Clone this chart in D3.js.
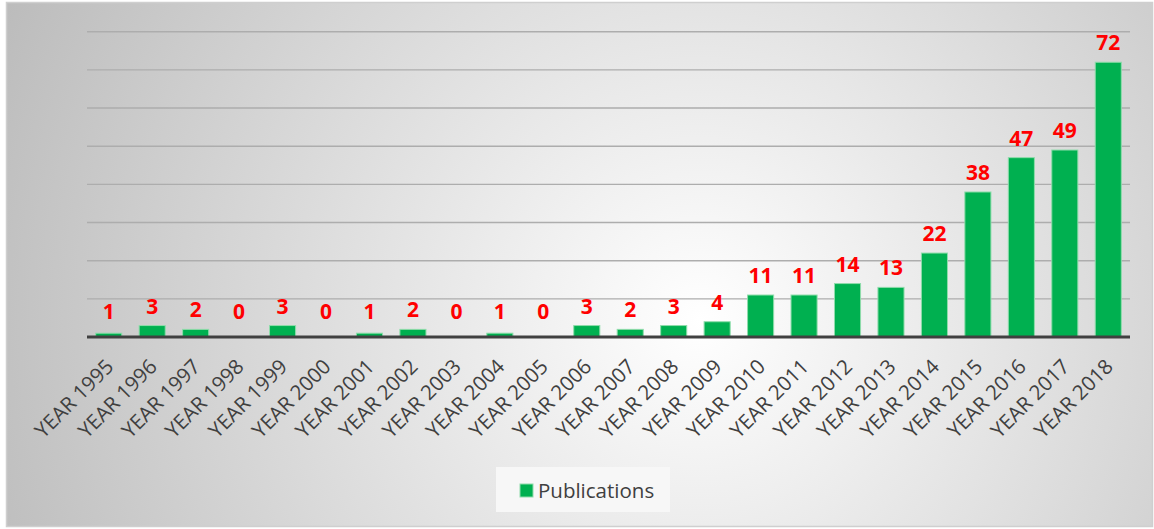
<!DOCTYPE html>
<html lang="en">
<head>
    <meta charset="UTF-8">
    <script src="https://d3js.org/d3.v7.min.js"></script>
    <style>
        body { margin: 0; background: #fff; }
        .lbl { font-family: "Open Sans", sans-serif; }
    </style>
</head>
<body>
<script>
    // chart data
    var years = ["YEAR 1995", "YEAR 1996", "YEAR 1997", "YEAR 1998", "YEAR 1999", "YEAR 2000",
        "YEAR 2001", "YEAR 2002", "YEAR 2003", "YEAR 2004", "YEAR 2005", "YEAR 2006",
        "YEAR 2007", "YEAR 2008", "YEAR 2009", "YEAR 2010", "YEAR 2011", "YEAR 2012",
        "YEAR 2013", "YEAR 2014", "YEAR 2015", "YEAR 2016", "YEAR 2017", "YEAR 2018"];
    var publications = [1, 3, 2, 0, 3, 0, 1, 2, 0, 1, 0, 3, 2, 3, 4, 11, 11, 14, 13, 22, 38, 47, 49, 72];
    var gridTicks = [10, 20, 30, 40, 50, 60, 70, 80];
    var seriesName = "Publications";

    var width = 1154, height = 529;
    var svg = d3.select("body").append("svg")
        .attr("width", width)
        .attr("height", height);

    // background gradient
    var defs = svg.append("defs");
    var grad = defs.append("radialGradient")
        .attr("id", "bg")
        .attr("gradientUnits", "userSpaceOnUse")
        .attr("cx", 700).attr("cy", 320).attr("r", 760);
    grad.append("stop").attr("offset", "0%").attr("stop-color", "#ffffff");
    grad.append("stop").attr("offset", "100%").attr("stop-color", "#bcbcbc");

    svg.append("rect")
        .attr("x", 6.5).attr("y", 2.5)
        .attr("width", 1146).attr("height", 524)
        .attr("fill", "url(#bg)")
        .attr("stroke", "#cfcfcf")
        .attr("stroke-width", 1.5);

    // scales
    var x = d3.scaleBand()
        .domain(years)
        .range([87, 1130])
        .paddingInner(0.4)
        .paddingOuter(0.2);

    var y = d3.scaleLinear()
        .domain([0, 80])
        .range([337, 31.7]);

    // gridlines
    svg.append("g").selectAll("line")
        .data(gridTicks)
        .enter().append("line")
        .attr("x1", 87).attr("x2", 1130)
        .attr("y1", d => y(d)).attr("y2", d => y(d))
        .attr("stroke", "#adadad")
        .attr("stroke-width", 1.4);

    // bars
    svg.append("g").selectAll("rect")
        .data(publications)
        .enter().append("rect")
        .attr("x", (d, i) => x(years[i]))
        .attr("y", d => y(d))
        .attr("width", x.bandwidth())
        .attr("height", d => y(0) - y(d))
        .attr("fill", "#00b050")
        .attr("stroke", "#8fdcab")
        .attr("stroke-width", d => d > 0 ? 1 : 0);

    // baseline
    svg.append("line")
        .attr("x1", 87).attr("x2", 1130)
        .attr("y1", y(0)).attr("y2", y(0))
        .attr("stroke", "#404040")
        .attr("stroke-width", 3);

    // value labels
    svg.append("g").selectAll("text")
        .data(publications)
        .enter().append("text")
        .attr("class", "lbl")
        .attr("x", (d, i) => x(years[i]) + x.bandwidth() / 2)
        .attr("y", d => Math.min(y(d) - 12, 319))
        .attr("text-anchor", "middle")
        .attr("fill", "#ff0000")
        .attr("font-weight", "bold")
        .attr("font-size", 21)
        .text(d => d);

    // x axis labels
    var xAxis = d3.axisBottom(x).tickSize(0).tickPadding(0);
    var gx = svg.append("g")
        .attr("transform", "translate(0," + 346 + ")")
        .call(xAxis);
    gx.select(".domain").remove();
    gx.selectAll("text")
        .attr("class", "lbl")
        .attr("font-size", 20.5)
        .attr("fill", "#404040")
        .attr("text-anchor", "end")
        .attr("y", 0)
        .attr("dy", 0)
        .attr("transform", "translate(6,22) rotate(-45)");

    // legend
    var lg = svg.append("g");
    lg.append("rect")
        .attr("x", 496).attr("y", 467)
        .attr("width", 174).attr("height", 45)
        .attr("fill", "#f7f7f7");
    lg.append("rect")
        .attr("x", 520).attr("y", 484)
        .attr("width", 13).attr("height", 13)
        .attr("fill", "#00b050")
        .attr("stroke", "#8fdcab");
    lg.append("text")
        .attr("class", "lbl")
        .attr("x", 538).attr("y", 498)
        .attr("font-size", 20.5)
        .attr("fill", "#404040")
        .text(seriesName);
</script>
</body>
</html>
